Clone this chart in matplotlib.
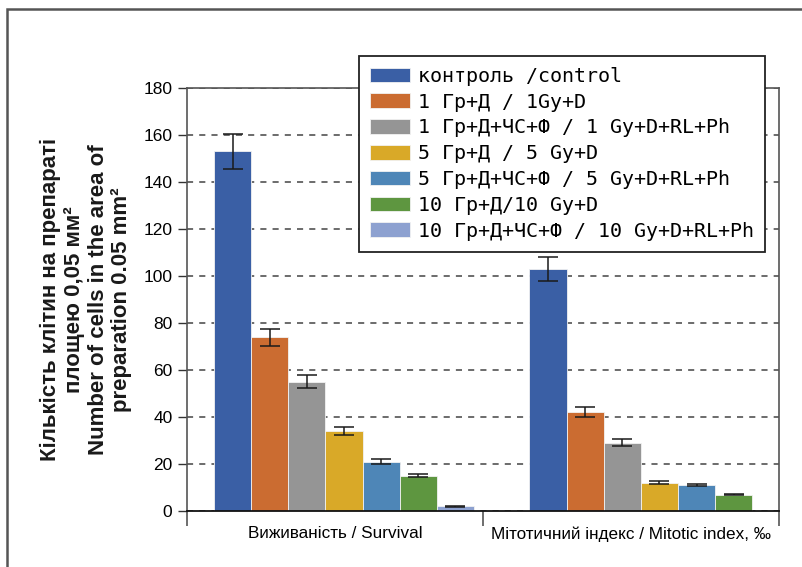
import numpy as np
import matplotlib
matplotlib.use("Agg")
import matplotlib.pyplot as plt
from matplotlib.patches import Rectangle

# Chart data
groups = ["Виживаність / Survival", "Мітотичний індекс / Mitotic index, ‰"]
series = [
    "контроль /control",
    "1 Гр+Д / 1Gy+D",
    "1 Гр+Д+ЧС+Ф / 1 Gy+D+RL+Ph",
    "5 Гр+Д / 5 Gy+D",
    "5 Гр+Д+ЧС+Ф / 5 Gy+D+RL+Ph",
    "10 Гр+Д/10 Gy+D",
    "10 Гр+Д+ЧС+Ф / 10 Gy+D+RL+Ph",
]
survival = [153, 74, 55, 34, 21, 15, 2]
survival_err = [7.5, 3.6, 2.7, 1.7, 1.0, 0.7, 0.2]
mitotic = [103, 42, 29, 12, 11, 7, None]
mitotic_err = [5.2, 2.1, 1.5, 0.6, 0.5, 0.4, None]
colors = ["#3A5FA5", "#CB6C31", "#959595", "#D9A928", "#4E86B7", "#5E9640", "#8DA1D0"]

ylabel = ("Кількість клітин на препараті\nплощею 0,05 мм²\n"
          "Number of cells in the area of\npreparation 0.05 mm²")

plt.rcParams["font.family"] = ["Liberation Sans", "DejaVu Sans"]

fig = plt.figure(figsize=(8.02, 5.67), dpi=100)
ax = fig.add_axes([187 / 802, 1 - 511 / 567, 592 / 802, 423 / 567])

width = 0.1255
group_start = [0.091, 0.157]
values = [survival, mitotic]
errors = [survival_err, mitotic_err]

for gi in range(len(groups)):
    for si, label in enumerate(series):
        v = values[gi][si]
        if v is None:
            continue
        x = gi + group_start[gi] + si * width
        ax.bar(x, v, width=width, align="edge", color=colors[si],
               edgecolor="#f2f2f2", linewidth=0.6, zorder=2,
               label=label if gi == 0 else None)
        ax.errorbar(x + width / 2, v, yerr=errors[gi][si], fmt="none",
                    ecolor="#1a1a1a", elinewidth=1.1, capsize=7.5,
                    capthick=1.1, zorder=3)

ax.set_xlim(0, 2)
ax.set_ylim(0, 180)
ax.set_yticks(np.arange(0, 181, 20))
ax.yaxis.grid(True, linestyle=(0, (4, 4)), color="#444444", linewidth=1.1, zorder=0)
ax.set_axisbelow(True)

# category labels in the middle, boundary ticks at the edges
ax.set_xticks([0.5, 1.5])
ax.set_xticklabels(groups, fontsize=12.3)
ax.tick_params(axis="x", which="major", length=0, pad=11)
ax.set_xticks([0, 1, 2], minor=True)
ax.tick_params(axis="x", which="minor", length=11, width=1.2, color="#555555")
ax.tick_params(axis="y", length=6.5, width=1, color="#333333", pad=4, labelsize=12.5)

for side in ["left", "right", "top"]:
    ax.spines[side].set_color("#555555")
    ax.spines[side].set_linewidth(1.2)
ax.spines["bottom"].set_color("#111111")
ax.spines["bottom"].set_linewidth(1.3)

ax.set_ylabel(ylabel, fontsize=16, fontweight="bold", color="#1a1a1a",
              linespacing=1.17, labelpad=8)

leg = ax.legend(loc="upper right", bbox_to_anchor=(0.976, 1.076), borderaxespad=0,
                prop={"family": "DejaVu Sans Mono", "size": 14.4},
                handlelength=2.0, handleheight=0.75, handletextpad=0.38,
                labelspacing=0.34, borderpad=0.55, fancybox=False, framealpha=1)
leg.get_frame().set_edgecolor("#222222")
leg.get_frame().set_linewidth(1.3)
leg.set_zorder(5)

# outer frame around the figure panel
fig.add_artist(Rectangle((7 / 802, -0.2), 1.2, 1.2 - 9 / 567, transform=fig.transFigure,
                         fill=False, edgecolor="#555555", linewidth=1.8))

fig.savefig("out.png", dpi=100)
